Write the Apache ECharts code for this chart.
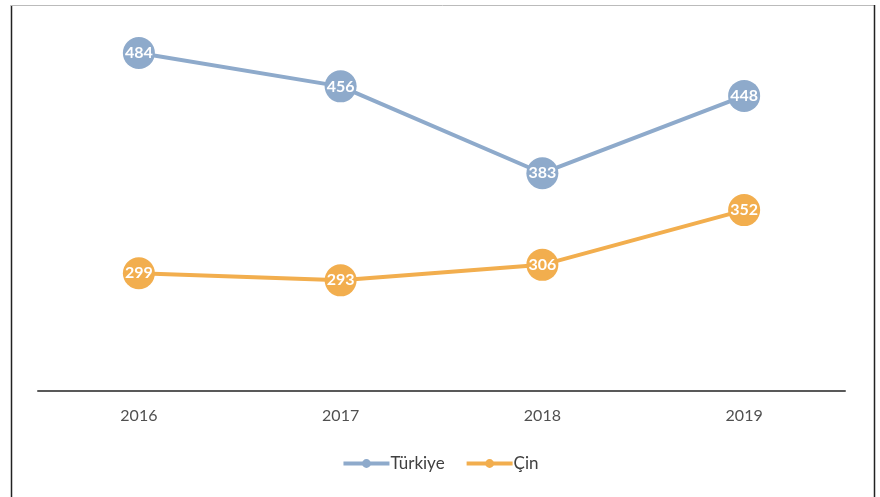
<!DOCTYPE html>
<html><head><meta charset="utf-8">
<script src="https://cdn.jsdelivr.net/npm/echarts@6/dist/echarts.min.js"></script>
<style>html,body{margin:0;padding:0;background:#fff}#c{width:880px;height:497px}</style>
</head><body><div id="c"></div>
<script>
const categories = ['2016', '2017', '2018', '2019'];
const turkiye = [484, 456, 383, 448];
const cin = [299, 293, 306, 352];
const seriesNames = ['Türkiye', 'Çin'];
const colors = ['#8eaacb', '#f2ae4e'];

const chart = echarts.init(document.getElementById('c'));
const mk = (name, data, color) => ({
  name, type: 'line', data,
  symbol: 'circle', symbolSize: 32,
  itemStyle: { color },
  lineStyle: { color, width: 4 },
  label: { show: true, position: 'inside', color: '#fff', fontWeight: 'bold', fontSize: 16, fontFamily: 'Lato' },
  emphasis: { disabled: true }
});
chart.setOption({
  animation: false,
  textStyle: { fontFamily: 'Lato' },
  grid: { left: 38, right: 35, top: 34, bottom: 106 },
  xAxis: {
    type: 'category', data: categories, boundaryGap: true,
    axisLine: { lineStyle: { color: '#595959', width: 2 } },
    axisTick: { show: false },
    axisLabel: { color: '#505050', fontSize: 16, margin: 17, fontFamily: 'Lato' }
  },
  yAxis: { type: 'value', min: 200, max: 500, show: false, splitLine: { show: false } },
  legend: {
    bottom: 20, left: 'center', itemWidth: 46, itemHeight: 11, itemGap: 20,
    lineStyle: { width: 4 },
    textStyle: { color: '#404040', fontSize: 17, fontFamily: 'Lato', padding: [0, 0, 0, -4] },
    data: seriesNames
  },
  graphic: [
    { type: 'line', shape: { x1: 11.5, y1: 5, x2: 11.5, y2: 497 }, style: { stroke: '#222', lineWidth: 1.5 } },
    { type: 'line', shape: { x1: 11, y1: 5.5, x2: 874, y2: 5.5 }, style: { stroke: '#bbb', lineWidth: 1 } },
    { type: 'line', shape: { x1: 874.5, y1: 5, x2: 874.5, y2: 497 }, style: { stroke: '#222', lineWidth: 1.5 } }
  ],
  series: [mk(seriesNames[0], turkiye, colors[0]), mk(seriesNames[1], cin, colors[1])]
});
</script></body></html>
